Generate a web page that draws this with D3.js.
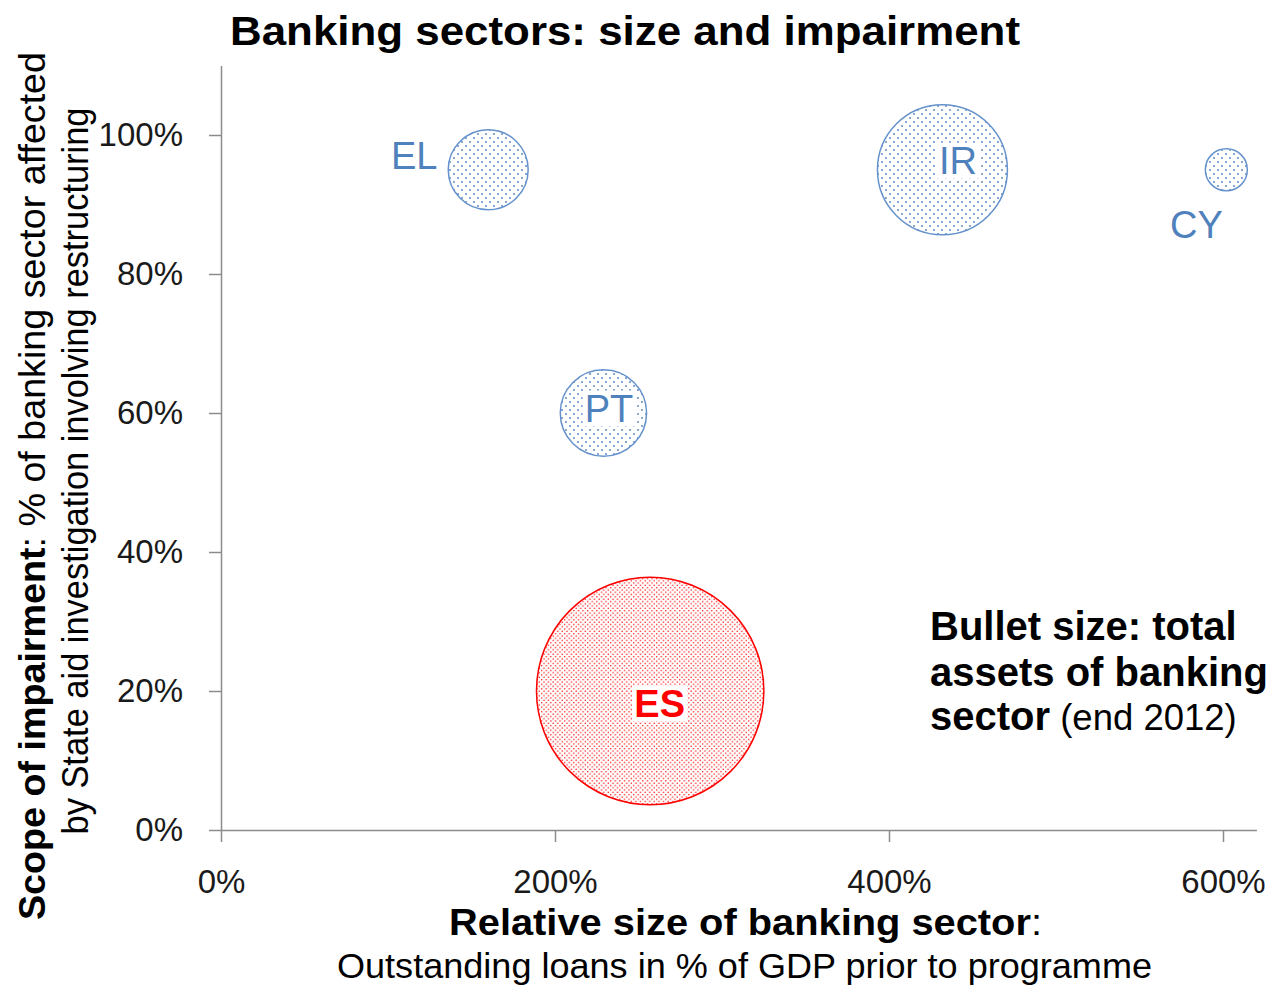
<!DOCTYPE html>
<html>
<head>
<meta charset="utf-8">
<script src="https://cdn.jsdelivr.net/npm/d3@7"></script>
<style>
  html, body { margin: 0; padding: 0; background: #ffffff; }
  svg { display: block; }
</style>
</head>
<body>
<script>
// Programme countries: banking sector size vs. share of sector under restructuring
const countries    = ["EL", "IR", "CY", "PT", "ES"];
const loansPctGdp  = [160, 432, 602, 229, 257];   // outstanding loans, % of GDP prior to programme
const impairedPct  = [95, 95, 95, 60, 20];        // % of banking sector affected by State aid restructuring
const assetsBn     = [420, 1110, 116, 490, 3400]; // total banking assets, end 2012 (EUR bn)
const xTickValues  = [0, 200, 400, 600];
const yTickValues  = [0, 20, 40, 60, 80, 100];

const W = 1274, H = 986;
const BLUE = "#4f81bd", BLUE_LINE = "#6592cc", RED = "#ff0000", AXIS = "#8c8c8c", INK = "#1a1a1a";
const SANS = "'Liberation Sans', Arial, sans-serif";
const NARROW = "'Liberation Sans Narrow', 'Arial Narrow', 'Liberation Sans', Arial, sans-serif";

const svg = d3.select("body").append("svg")
  .attr("width", W).attr("height", H)
  .style("background", "#fff");

// Dotted fills
const defs = svg.append("defs");
function dotPattern(id, size, rad, color) {
  const p = defs.append("pattern").attr("id", id)
    .attr("patternUnits", "userSpaceOnUse")
    .attr("width", size).attr("height", size);
  p.append("circle").attr("cx", size * 0.25).attr("cy", size * 0.25).attr("r", rad).attr("fill", color);
  p.append("circle").attr("cx", size * 0.75).attr("cy", size * 0.75).attr("r", rad).attr("fill", color);
}
dotPattern("dotsBlue", 8, 0.9, BLUE);
dotPattern("dotsRed", 4.6, 0.75, RED);

const x = d3.scaleLinear().domain([0, 620]).range([221, 1256.4]);
const y = d3.scaleLinear().domain([0, 110]).range([830, 65.5]);
const r = d3.scaleSqrt().domain([0, 3400]).range([0, 113.7]);

// Axes
const yAxis = svg.append("g")
  .attr("transform", `translate(${x(0)},0)`)
  .call(d3.axisLeft(y).tickValues(yTickValues).tickSize(12).tickSizeOuter(0)
    .tickPadding(26).tickFormat(d => d + "%"));
const xAxis = svg.append("g")
  .attr("transform", `translate(0,${y(0)})`)
  .call(d3.axisBottom(x).tickValues(xTickValues).tickSize(12).tickSizeOuter(0)
    .tickFormat(d => d + "%"));
xAxis.selectAll(".tick text").attr("y", 63).attr("dy", null);

[xAxis, yAxis].forEach(g => {
  g.select(".domain").attr("stroke", AXIS).attr("stroke-width", 1.5);
  g.selectAll(".tick line").attr("stroke", AXIS).attr("stroke-width", 1.5);
  g.selectAll(".tick text")
    .attr("fill", INK).style("font-family", SANS).style("font-size", "33px");
});

// Bubbles
const rows = countries.map((c, i) => ({
  c, lx: loansPctGdp[i], imp: impairedPct[i], assets: assetsBn[i]
}));
const isHighlight = d => d.c === "ES";

svg.append("g").selectAll("circle")
  .data(rows).join("circle")
  .attr("cx", d => x(d.lx))
  .attr("cy", d => y(d.imp))
  .attr("r", d => r(d.assets))
  .attr("fill", d => isHighlight(d) ? "url(#dotsRed)" : "url(#dotsBlue)")
  .attr("stroke", d => isHighlight(d) ? RED : BLUE_LINE)
  .attr("stroke-width", 1.5);

// Country labels (offset from bubble centre, on a white box)
const labelOffset = { EL: [-74, -1], IR: [15.5, 4], CY: [-30, 68.5], PT: [5.5, 8.5], ES: [9.5, 25.5] };
const labels = svg.append("g").selectAll("g")
  .data(rows).join("g")
  .attr("transform", d => `translate(${x(d.lx) + labelOffset[d.c][0]},${y(d.imp) + labelOffset[d.c][1]})`);
labels.append("text")
  .attr("text-anchor", "middle")
  .style("font-family", SANS)
  .style("font-size", "38px")
  .style("font-weight", d => isHighlight(d) ? "bold" : "normal")
  .attr("fill", d => isHighlight(d) ? RED : BLUE)
  .text(d => d.c);
labels.each(function () {
  const g = d3.select(this);
  const bb = g.select("text").node().getBBox();
  g.insert("rect", "text")
    .attr("x", bb.x - 2).attr("y", bb.y + 3)
    .attr("width", bb.width + 4).attr("height", bb.height - 6)
    .attr("fill", "#fff");
});

// Chart title
svg.append("text")
  .attr("x", 230).attr("y", 45)
  .attr("textLength", 790).attr("lengthAdjust", "spacingAndGlyphs")
  .style("font-family", NARROW).style("font-size", "41px").style("font-weight", "bold")
  .attr("fill", "#000")
  .text("Banking sectors: size and impairment");

// X axis title
const xt1 = svg.append("text")
  .attr("x", 449).attr("y", 935)
  .attr("textLength", 593).attr("lengthAdjust", "spacingAndGlyphs")
  .style("font-family", NARROW).style("font-size", "37px").attr("fill", "#000");
xt1.append("tspan").style("font-weight", "bold").text("Relative size of banking sector");
xt1.append("tspan").text(":");
svg.append("text")
  .attr("x", 337).attr("y", 978)
  .attr("textLength", 815).attr("lengthAdjust", "spacingAndGlyphs")
  .style("font-family", NARROW).style("font-size", "35px").attr("fill", "#000")
  .text("Outstanding loans in % of GDP prior to programme");

// Y axis title (two rotated lines)
const yt1 = svg.append("text")
  .attr("transform", "translate(45,486) rotate(-90)")
  .attr("text-anchor", "middle")
  .attr("textLength", 868).attr("lengthAdjust", "spacingAndGlyphs")
  .style("font-family", SANS).style("font-size", "37px").attr("fill", "#000");
yt1.append("tspan").style("font-weight", "bold").text("Scope of impairment");
yt1.append("tspan").text(": % of banking sector affected");
svg.append("text")
  .attr("transform", "translate(88,471) rotate(-90)")
  .attr("text-anchor", "middle")
  .attr("textLength", 727).attr("lengthAdjust", "spacingAndGlyphs")
  .style("font-family", SANS).style("font-size", "37px").attr("fill", "#000")
  .text("by State aid investigation involving restructuring");

// Bubble-size note
const note = svg.append("text")
  .attr("x", 930).attr("y", 640)
  .style("font-family", SANS).style("font-size", "40px").attr("fill", "#000");
note.append("tspan").attr("x", 930).attr("y", 640).style("font-weight", "bold").text("Bullet size: total");
note.append("tspan").attr("x", 930).attr("y", 686).style("font-weight", "bold").text("assets of banking");
note.append("tspan").attr("x", 930).attr("y", 730).style("font-weight", "bold").text("sector");
note.append("tspan").style("font-size", "36.5px").text(" (end 2012)");
</script>
</body>
</html>
